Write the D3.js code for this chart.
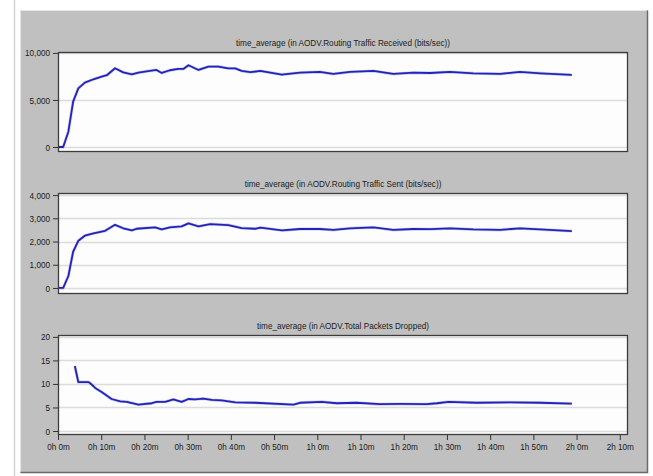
<!DOCTYPE html>
<html>
<head>
<meta charset="utf-8">
<script src="https://cdn.jsdelivr.net/npm/d3@7"></script>
<style>
  html, body { margin: 0; padding: 0; background: #fff; }
  svg { display: block; }
  .tick-label { font-family: "Liberation Sans", Arial, sans-serif; font-size: 9.5px; fill: #1a1a1a; }
</style>
</head>
<body>
<div id="chart"></div>
<script>
// ---- data (minutes, value) ----
const recvTime = [0, 1.2, 2.4, 3.5, 4.7, 6.2, 8.2, 10.1, 11.3, 13.2, 15.1, 17.1, 18.6, 20.5, 22.8, 24, 25.9, 27.8, 29, 30.2, 32.5, 34.8, 37.1, 39.4, 41, 42.5, 44.5, 46.8, 51.8, 56, 60.6, 63.7, 67.6, 73, 77.6, 82.2, 86.1, 90.7, 96.1, 102.3, 106.9, 111.6, 118.9];
const recvVals = [0, 0, 1630, 4820, 6240, 6840, 7200, 7480, 7630, 8370, 7940, 7730, 7900, 8050, 8190, 7870, 8160, 8300, 8300, 8690, 8190, 8550, 8550, 8370, 8350, 8090, 7950, 8090, 7700, 7900, 7980, 7770, 7980, 8090, 7770, 7900, 7870, 7980, 7830, 7770, 7980, 7830, 7660];

const sentTime = [0, 1.2, 2.4, 3.5, 4.7, 6.2, 8.2, 10.9, 13.2, 15.1, 17.1, 18.2, 22.5, 24, 25.9, 28.6, 30.2, 32.5, 35.2, 39.4, 42.5, 45.6, 46.8, 51.8, 56, 60.6, 63.7, 67.6, 73, 77.6, 82.2, 86.1, 90.7, 96.1, 102.3, 106.9, 111.6, 118.9];
const sentVals = [0, 0, 516, 1560, 2030, 2250, 2350, 2460, 2720, 2570, 2480, 2550, 2610, 2520, 2610, 2650, 2780, 2650, 2750, 2710, 2580, 2550, 2600, 2480, 2540, 2540, 2500, 2570, 2610, 2500, 2540, 2530, 2570, 2520, 2500, 2570, 2520, 2450];

const dropTime = [3.9, 4.7, 7.0, 7.4, 8.6, 10.1, 12.4, 14.4, 15.9, 18.6, 21.7, 22.8, 24.8, 26.7, 28.6, 30.2, 31.7, 33.6, 35.6, 37.9, 41, 45.6, 54.5, 56, 61, 64.5, 69.1, 74.5, 79.2, 85.3, 87.7, 90.4, 96.9, 104.6, 111.6, 118.9];
const dropVals = [13.8, 10.4, 10.4, 10.2, 9.15, 8.3, 6.8, 6.3, 6.2, 5.6, 5.9, 6.2, 6.2, 6.7, 6.2, 6.8, 6.7, 6.9, 6.6, 6.5, 6.1, 6.0, 5.6, 6.0, 6.2, 5.9, 6.0, 5.7, 5.75, 5.7, 5.9, 6.2, 6.0, 6.1, 6.0, 5.8];

const titles = [
  "time_average (in AODV.Routing Traffic Received (bits/sec))",
  "time_average (in AODV.Routing Traffic Sent (bits/sec))",
  "time_average (in AODV.Total Packets Dropped)"
];
const yTicks = [
  [0, 5000, 10000],
  [0, 1000, 2000, 3000, 4000],
  [0, 5, 10, 15, 20]
];
const yDomains = [[-530, 10100], [-260, 4090], [-0.85, 20.4]];
const xTicks = d3.range(0, 131, 10);

// ---- layout ----
const W = 653, H = 476;
const plotLeft = 58, plotRight = 628;
const panels = [
  { top: 52, bottom: 152 },
  { top: 193, bottom: 294 },
  { top: 335, bottom: 435 }
];
const series = [
  { t: recvTime, v: recvVals },
  { t: sentTime, v: sentVals },
  { t: dropTime, v: dropVals }
];

const svg = d3.select('#chart').append('svg')
  .attr('width', W)
  .attr('height', H);

// window chrome
svg.append('line')
  .attr('x1', 14.5).attr('x2', 14.5).attr('y1', 0).attr('y2', H)
  .attr('stroke', '#d4d4d4').attr('stroke-width', 1.5);

svg.append('rect')
  .attr('x', 20).attr('y', 10).attr('width', 628).attr('height', 463)
  .attr('fill', '#c0c0c0');
svg.append('path')
  .attr('d', 'M20.5,472.5 V10.5 H647.5')
  .attr('fill', 'none').attr('stroke', '#e6e6e6').attr('stroke-width', 1);
svg.append('path')
  .attr('d', 'M20.5,472.5 H647.5 V10.5')
  .attr('fill', 'none').attr('stroke', '#6a6a6a').attr('stroke-width', 1.5);

const x = d3.scaleLinear().domain([0, 131.9]).range([plotLeft, plotRight]);

const fmtTime = (m) => `${Math.floor(m / 60)}h ${m % 60}m`;

panels.forEach((p, i) => {
  const y = d3.scaleLinear().domain(yDomains[i]).range([p.bottom, p.top]);
  const g = svg.append('g').attr('class', `panel-${i}`);

  // plot background
  g.append('rect')
    .attr('x', plotLeft).attr('y', p.top)
    .attr('width', plotRight - plotLeft).attr('height', p.bottom - p.top)
    .attr('fill', '#fdfdfd');

  // gridlines
  g.selectAll('line.grid')
    .data(yTicks[i])
    .enter()
    .append('line')
    .attr('class', 'grid')
    .attr('x1', plotLeft).attr('x2', plotRight)
    .attr('y1', (d) => Math.round(y(d)) + 0.5)
    .attr('y2', (d) => Math.round(y(d)) + 0.5)
    .attr('stroke', '#dcdcdc')
    .attr('stroke-width', 1.5);

  // data line
  const pts = series[i].t.map((t, k) => [t, series[i].v[k]]);
  g.append('path')
    .datum(pts)
    .attr('d', d3.line().x((d) => x(d[0])).y((d) => y(d[1])))
    .attr('fill', 'none')
    .attr('stroke', '#8c8ce0')
    .attr('stroke-width', 3)
    .attr('stroke-opacity', 0.45)
    .attr('stroke-linejoin', 'round');
  g.append('path')
    .datum(pts)
    .attr('d', d3.line().x((d) => x(d[0])).y((d) => y(d[1])))
    .attr('fill', 'none')
    .attr('stroke', '#2323b8')
    .attr('stroke-width', 1.8)
    .attr('stroke-linejoin', 'round');

  // plot border
  g.append('rect')
    .attr('x', plotLeft + 0.5).attr('y', p.top + 0.5)
    .attr('width', plotRight - plotLeft - 1).attr('height', p.bottom - p.top - 1)
    .attr('fill', 'none')
    .attr('stroke', '#3c3c3c')
    .attr('stroke-width', 1.3);

  // y axis ticks + labels
  const yAxis = d3.axisLeft(y)
    .tickValues(yTicks[i])
    .tickSize(5)
    .tickPadding(2)
    .tickFormat(d3.format(','));
  const ya = g.append('g')
    .attr('transform', `translate(${plotLeft},0)`)
    .call(yAxis);
  ya.select('.domain').remove();
  ya.selectAll('line').attr('stroke', '#333');
  ya.selectAll('text')
    .attr('class', 'tick-label')
    .attr('font-size', null).attr('font-family', null).attr('fill', null)
    .attr('transform', function () { return 'scale(0.86,1)'; })
    .attr('x', -8 / 0.86);

  // title
  g.append('text')
    .attr('class', 'tick-label')
    .attr('transform', `translate(${(plotLeft + plotRight) / 2},${p.top - 6}) scale(0.86,1)`)
    .attr('text-anchor', 'middle')
    .text(titles[i]);

  // x axis on the last panel only
  if (i === panels.length - 1) {
    const xAxis = d3.axisBottom(x)
      .tickValues(xTicks)
      .tickSize(5)
      .tickPadding(3)
      .tickFormat(fmtTime);
    const xa = g.append('g')
      .attr('transform', `translate(0,${p.bottom})`)
      .call(xAxis);
    xa.select('.domain').remove();
    xa.selectAll('line').attr('stroke', '#333');
    xa.selectAll('text')
      .attr('class', 'tick-label')
      .attr('font-size', null).attr('font-family', null).attr('fill', null)
      .attr('transform', 'scale(0.86,1)')
      .attr('x', 0);
  }
});
</script>
</body>
</html>
